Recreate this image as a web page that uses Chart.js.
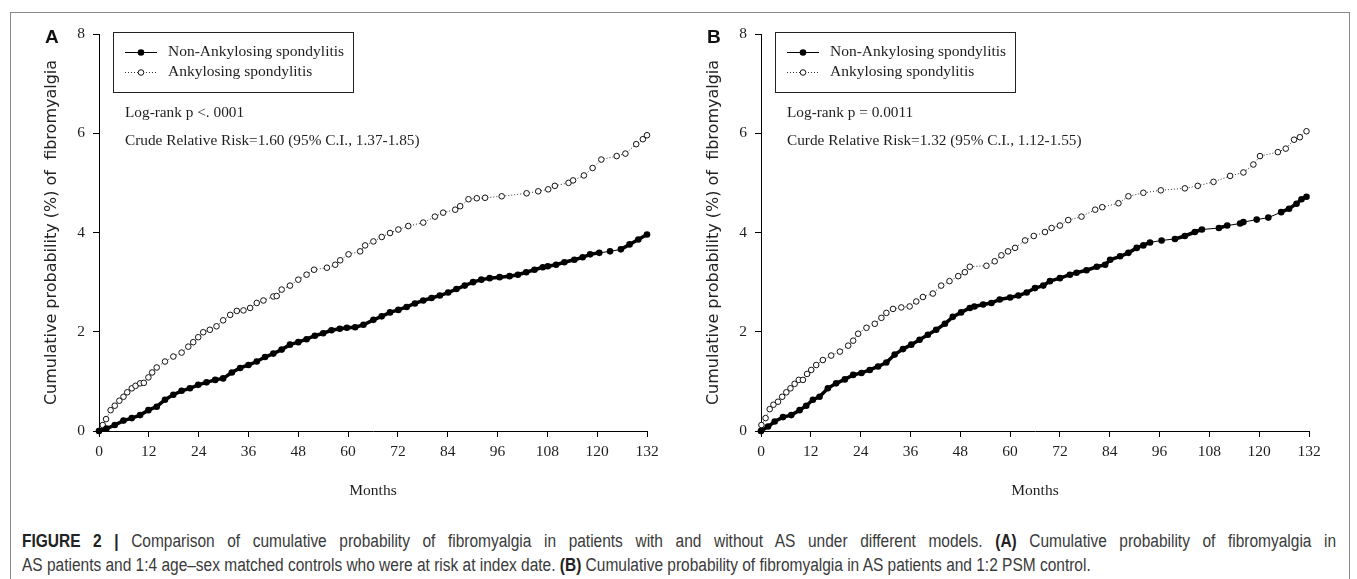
<!DOCTYPE html>
<html>
<head>
<meta charset="utf-8">
<script src="https://cdn.jsdelivr.net/npm/chart.js@4.4.1/dist/chart.umd.min.js"></script>
<style>
  html, body { margin: 0; padding: 0; background: #fff; }
  body { width: 1357px; height: 579px; position: relative; overflow: hidden; }
  #frame { position: absolute; left: 10px; top: 12px; width: 1340px; height: 620px; border: 1px solid #8a8a8a; box-sizing: border-box; }
  canvas { position: absolute; top: 0; }
  #chartA { left: 0; }
  #chartB { left: 662px; }
  /* condensed look for the caption face */
  .caption { position: absolute; left: 22px; font-family: "Liberation Sans", Arial, sans-serif; font-size: 18px; line-height: 24px; color: #3a3a3a; white-space: nowrap; transform: scaleX(0.86); transform-origin: 0 0; }
  .caption.full { width: 1528px; text-align: justify; text-align-last: justify; white-space: normal; }
  .caption b { color: #222; }
</style>
</head>
<body>
<div id="frame"></div>
<canvas id="chartA" width="680" height="520"></canvas>
<canvas id="chartB" width="680" height="520"></canvas>
<div class="caption full" style="top:529px"><b>FIGURE 2 |</b> Comparison of cumulative probability of fibromyalgia in patients with and without AS under different models. <b>(A)</b> Cumulative probability of fibromyalgia in</div>
<div class="caption" style="top:553px">AS patients and 1:4 age–sex matched controls who were at risk at index date. <b>(B)</b> Cumulative probability of fibromyalgia in AS patients and 1:2 PSM control.</div>
<script>
// tick labels
const xTicks = [0, 12, 24, 36, 48, 60, 72, 84, 96, 108, 120, 132];
const yTicks = [0, 2, 4, 6, 8];
const seriesNames = ["Non-Ankylosing spondylitis", "Ankylosing spondylitis"];

// panel A: age-sex matched controls
const monthsANon = [0, 1.8, 3.8, 5.9, 7.9, 9.9, 11.9, 13.9, 15.9, 17.9, 19.9, 21.9, 23.9, 25.9, 28, 29.9, 32, 34, 36, 38, 40, 42, 44, 46, 48, 50, 52, 54, 56, 58, 59.7, 61.7, 63.7, 66.1, 68.1, 70.1, 72.1, 74.1, 76.1, 78.1, 80.1, 82.1, 84.1, 86.1, 88.1, 90.1, 92.1, 94.1, 96.5, 98.9, 100.9, 102.9, 104.9, 106.9, 108.1, 110.1, 112.1, 114.5, 116.5, 118.3, 120.5, 123.1, 125.7, 127.8, 129.9, 132];
const probANon = [0, 0.05, 0.12, 0.21, 0.26, 0.32, 0.42, 0.49, 0.63, 0.73, 0.81, 0.86, 0.93, 0.98, 1.03, 1.06, 1.18, 1.27, 1.33, 1.40, 1.49, 1.56, 1.64, 1.74, 1.79, 1.85, 1.92, 1.97, 2.03, 2.06, 2.08, 2.09, 2.14, 2.24, 2.31, 2.39, 2.44, 2.50, 2.57, 2.63, 2.68, 2.73, 2.79, 2.86, 2.93, 3.00, 3.05, 3.08, 3.10, 3.12, 3.15, 3.20, 3.25, 3.30, 3.32, 3.35, 3.40, 3.45, 3.50, 3.56, 3.59, 3.62, 3.66, 3.76, 3.86, 3.96];
const monthsAAs = [0, 0.9, 1.7, 2.8, 3.8, 4.9, 5.9, 6.8, 7.9, 8.8, 9.9, 10.8, 11.9, 12.8, 13.9, 15.9, 17.9, 19.9, 21.5, 22.7, 23.9, 25.1, 26.7, 28.3, 29.9, 31.6, 33.2, 34.8, 36.4, 38, 39.6, 42, 42.8, 44, 46, 48, 50, 51.8, 54.9, 56.9, 58.1, 60.1, 62.9, 64.1, 66.1, 68.1, 70.1, 72.1, 74.5, 78.1, 80.9, 82.9, 85.8, 87, 89, 91, 93, 97, 103, 105.8, 108.2, 109.8, 113.1, 114.2, 116.8, 118.9, 121, 124.7, 126.8, 129.4, 131, 132];
const probAAs = [0, 0.12, 0.24, 0.42, 0.51, 0.61, 0.69, 0.78, 0.86, 0.91, 0.96, 0.97, 1.08, 1.18, 1.28, 1.40, 1.50, 1.58, 1.70, 1.79, 1.89, 1.99, 2.04, 2.11, 2.23, 2.34, 2.42, 2.43, 2.48, 2.58, 2.63, 2.71, 2.72, 2.85, 2.93, 3.05, 3.15, 3.25, 3.29, 3.35, 3.44, 3.56, 3.62, 3.74, 3.82, 3.91, 3.99, 4.06, 4.13, 4.20, 4.32, 4.40, 4.46, 4.53, 4.67, 4.69, 4.70, 4.73, 4.79, 4.83, 4.87, 4.94, 5.00, 5.05, 5.15, 5.30, 5.47, 5.54, 5.59, 5.78, 5.88, 5.96];

// panel B: 1:2 PSM controls
const monthsBNon = [0, 1.7, 3.3, 5.3, 7.3, 9.3, 10.9, 12.5, 14.1, 16.1, 18.1, 20.2, 22.2, 24.2, 26.2, 28.2, 30.2, 32.2, 34.2, 36.2, 38.2, 40.2, 42.2, 44.3, 46.2, 48.2, 50.3, 51.4, 53.5, 55.5, 57.5, 60, 62, 64, 66, 68, 69.6, 72, 74.4, 76, 78.4, 80.9, 82.9, 84.1, 86.5, 88.5, 90.5, 92.1, 93.7, 96.5, 99.7, 102.1, 104.5, 106.2, 110.3, 112.3, 115.4, 116.2, 119.4, 122.2, 125.3, 127.2, 129, 130.2, 131.4];
const probBNon = [0, 0.09, 0.19, 0.28, 0.32, 0.42, 0.51, 0.63, 0.69, 0.86, 0.96, 1.04, 1.13, 1.17, 1.23, 1.30, 1.38, 1.54, 1.65, 1.74, 1.84, 1.94, 2.04, 2.16, 2.30, 2.39, 2.48, 2.51, 2.55, 2.58, 2.65, 2.69, 2.73, 2.79, 2.88, 2.93, 3.02, 3.08, 3.15, 3.19, 3.24, 3.31, 3.35, 3.45, 3.52, 3.59, 3.69, 3.74, 3.80, 3.84, 3.87, 3.93, 4.01, 4.06, 4.09, 4.14, 4.18, 4.21, 4.26, 4.30, 4.41, 4.48, 4.58, 4.67, 4.72];
const monthsBAs = [0, 0.1, 1.1, 2.1, 3, 4.1, 5.1, 6.1, 7.1, 8.1, 9.1, 10.1, 11.1, 12.1, 13.3, 14.9, 16.9, 19, 21, 22.2, 23.4, 25.4, 27.4, 29, 30.2, 31.8, 33.8, 35.8, 37.4, 39, 41.4, 43.4, 45.4, 47.5, 49.1, 50.3, 54.3, 56.3, 57.9, 59.5, 61.2, 63.6, 65.7, 68.4, 70, 72, 74, 77.2, 80.5, 82.2, 86.1, 88.5, 92.1, 96.3, 102.1, 105.2, 109, 113, 116.2, 118.6, 120.2, 124.5, 126.4, 128.4, 129.8, 131.4];
const probBAs = [0, 0.12, 0.26, 0.44, 0.53, 0.59, 0.69, 0.78, 0.86, 0.95, 1.03, 1.03, 1.15, 1.23, 1.33, 1.43, 1.52, 1.60, 1.72, 1.82, 1.96, 2.08, 2.16, 2.28, 2.38, 2.46, 2.49, 2.51, 2.61, 2.70, 2.77, 2.93, 3.02, 3.12, 3.20, 3.31, 3.33, 3.42, 3.54, 3.62, 3.69, 3.84, 3.93, 4.01, 4.09, 4.14, 4.25, 4.32, 4.46, 4.51, 4.59, 4.73, 4.80, 4.85, 4.89, 4.94, 5.02, 5.14, 5.21, 5.37, 5.54, 5.62, 5.69, 5.87, 5.92, 6.04];

const serif = '"Liberation Serif", "Times New Roman", serif';
const ink = '#1e1e1e';

function pairs(xs, ys) {
  return xs.map((x, i) => ({ x: x, y: ys[i] }));
}

function drawMarker(ctx, x, y, filled) {
  ctx.beginPath();
  if (filled) {
    ctx.arc(x, y, 3.3, 0, Math.PI * 2);
    ctx.fillStyle = '#000';
    ctx.fill();
  } else {
    ctx.arc(x, y, 2.8, 0, Math.PI * 2);
    ctx.fillStyle = '#fff';
    ctx.fill();
    ctx.lineWidth = 1;
    ctx.strokeStyle = '#111';
    ctx.stroke();
  }
}

function panelDecor(letter, notes) {
  return {
    id: 'decor' + letter,
    afterDraw(chart) {
      const ctx = chart.ctx;
      ctx.save();
      ctx.fillStyle = '#111';
      ctx.font = 'bold 19px "Liberation Sans", Arial, sans-serif';
      ctx.textBaseline = 'middle';
      ctx.textAlign = 'left';
      ctx.fillText(letter, 45, 38);

      // legend box
      ctx.strokeStyle = '#222';
      ctx.lineWidth = 1;
      ctx.strokeRect(113.5, 32.5, 240, 60);
      seriesNames.forEach((name, i) => {
        const y = 52 + i * 20;
        ctx.beginPath();
        ctx.setLineDash(i === 0 ? [] : [1, 2]);
        ctx.strokeStyle = i === 0 ? '#000' : '#333';
        ctx.moveTo(125, y + 0.5);
        ctx.lineTo(157, y + 0.5);
        ctx.stroke();
        ctx.setLineDash([]);
        drawMarker(ctx, 141, y + 0.5, i === 0);
        ctx.fillStyle = ink;
        ctx.font = '15.5px ' + serif;
        ctx.fillText(name, 168, y);
      });

      ctx.font = '15.3px ' + serif;
      ctx.fillStyle = ink;
      ctx.fillText(notes[0], 125, 113);
      ctx.fillText(notes[1], 125, 141);
      ctx.restore();
    }
  };
}

function makePanel(id, letter, nonX, nonY, asX, asY, notes) {
  const ctx = document.getElementById(id).getContext('2d');
  return new Chart(ctx, {
    type: 'line',
    data: {
      datasets: [
        {
          label: seriesNames[0],
          data: pairs(nonX, nonY),
          borderColor: '#000',
          segment: {
            borderWidth: c => (c.p1.parsed.x - c.p0.parsed.x > 2.5 ? 1 : 3.5)
          },
          pointRadius: 3.3,
          pointBackgroundColor: '#000',
          pointBorderWidth: 0,
          tension: 0,
          clip: false
        },
        {
          label: seriesNames[1],
          data: pairs(asX, asY),
          borderColor: '#333',
          borderWidth: 1,
          borderDash: [1, 2],
          pointRadius: 2.8,
          pointBackgroundColor: '#fff',
          pointBorderColor: '#111',
          pointBorderWidth: 1,
          tension: 0,
          clip: false
        }
      ]
    },
    options: {
      responsive: false,
      animation: false,
      devicePixelRatio: 1,
      layout: { padding: { top: 34, right: 33, left: 0, bottom: 0 } },
      plugins: { legend: { display: false }, tooltip: { enabled: false } },
      scales: {
        x: {
          type: 'linear',
          min: 0,
          max: 132,
          afterBuildTicks: s => { s.ticks = xTicks.map(v => ({ value: v })); },
          afterFit: s => { s.height = 89; },
          grid: { drawOnChartArea: false, drawTicks: true, tickLength: 6, color: '#000' },
          border: { display: true, color: '#000', width: 1 },
          ticks: { color: ink, padding: 6, maxRotation: 0, font: { family: serif, size: 15.5 } },
          title: { display: true, text: 'Months', color: ink, padding: { top: 0, bottom: 20 }, font: { family: serif, size: 15.5 } }
        },
        y: {
          min: 0,
          max: 8,
          afterBuildTicks: s => { s.ticks = yTicks.map(v => ({ value: v })); },
          afterFit: s => { s.width = 99; },
          grid: { drawOnChartArea: false, drawTicks: true, tickLength: 6, color: '#000' },
          border: { display: true, color: '#000', width: 1 },
          ticks: { color: ink, padding: 8, font: { family: serif, size: 15.5 } },
          title: { display: true, text: 'Cumulative probability (%) of  fibromyalgia', color: '#222', padding: { top: 42, bottom: 0 }, font: { family: '"DejaVu Sans", Verdana, sans-serif', size: 16 } }
        }
      }
    },
    plugins: [panelDecor(letter, notes)]
  });
}

makePanel('chartA', 'A', monthsANon, probANon, monthsAAs, probAAs,
  ['Log-rank p <. 0001', 'Crude Relative Risk=1.60 (95% C.I., 1.37-1.85)']);
makePanel('chartB', 'B', monthsBNon, probBNon, monthsBAs, probBAs,
  ['Log-rank p = 0.0011', 'Curde Relative Risk=1.32 (95% C.I., 1.12-1.55)']);
</script>
</body>
</html>
